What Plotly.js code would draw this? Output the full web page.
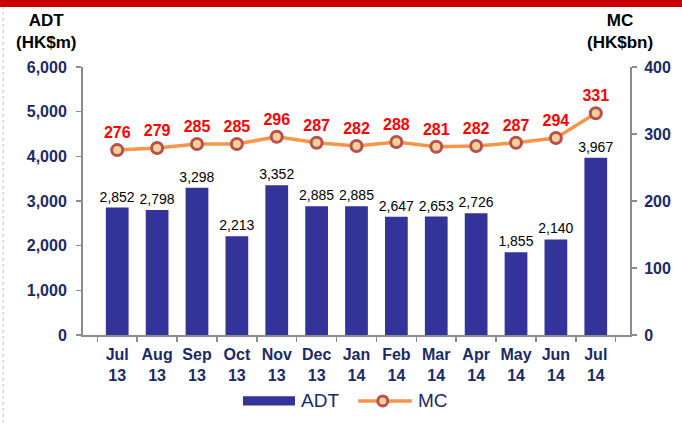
<!DOCTYPE html>
<html><head><meta charset="utf-8">
<script src="https://cdn.plot.ly/plotly-3.0.1.min.js"></script>
<style>html,body{margin:0;padding:0;background:#fff;}#chart{width:682px;height:424px;}</style>
</head><body><div id="chart"></div>
<script>
const months = ["Jul<br>13","Aug<br>13","Sep<br>13","Oct<br>13","Nov<br>13","Dec<br>13","Jan<br>14","Feb<br>14","Mar<br>14","Apr<br>14","May<br>14","Jun<br>14","Jul<br>14"];
const adt = [2852, 2798, 3298, 2213, 3352, 2885, 2885, 2647, 2653, 2726, 1855, 2140, 3967];
const mc = [276, 279, 285, 285, 296, 287, 282, 288, 281, 282, 287, 294, 331];

const navy = '#1b2a66';
const font = 'Liberation Sans, Arial, sans-serif';

const traces = [
  {type:'bar', x:months, y:adt, name:'ADT', marker:{color:'#333399'},
   texttemplate:'%{y:,}', textposition:'outside', cliponaxis:false, constraintext:'none',
   textfont:{family:font, size:14, color:'#000'}, showlegend:false},
  {type:'scatter', mode:'lines+markers+text', x:months, y:mc, yaxis:'y2', name:'MC',
   line:{color:'#F79646', width:3.5},
   marker:{size:11, color:'#F2D29B', line:{color:'#B9504C', width:3}},
   text:mc.map(String), textposition:'top center', cliponaxis:false,
   textfont:{family:font, size:16, color:'#FF0000', weight:'bold'}, showlegend:false}
];

const axisCommon = {showline:true, linecolor:'#8c8c8c', linewidth:2, ticks:'outside', ticklen:5,
  tickcolor:'#8c8c8c', tickwidth:1.5, showgrid:false, zeroline:false,
  tickfont:{family:font, size:16, color:navy, weight:'bold'}};

const layout = {
  width:682, height:424,
  margin:{l:83, r:52, t:67, b:89},
  paper_bgcolor:'#fff', plot_bgcolor:'#fff',
  bargap:0.43,
  showlegend:false,
  font:{family:font},
  xaxis:Object.assign({}, axisCommon, {type:'category', tickson:'boundaries', ticklabelstandoff:4, tickangle:0,
    tickfont:{family:font, size:16, color:navy, weight:'bold'}}),
  yaxis:Object.assign({}, axisCommon, {range:[0,6000], dtick:1000, tickformat:',', ticklabelstandoff:6}),
  yaxis2:Object.assign({}, axisCommon, {range:[0,400], dtick:100, overlaying:'y', side:'right', ticklabelstandoff:4}),
  shapes:[
    {type:'rect', xref:'paper', yref:'paper', x0:-0.2, x1:1.2, y0:1.224, y1:1.3, line:{width:0}, fillcolor:'#CC0000'},
    {type:'line', xref:'paper', yref:'paper', x0:-0.146, x1:-0.146, y0:-0.35, y1:1.224, line:{color:'#bbbbbb', width:1, dash:'dot'}},
    {type:'rect', xref:'paper', yref:'paper', x0:0.2925, x1:0.3876, y0:-0.229, y1:-0.263, fillcolor:'#333399', line:{width:0}},
    {type:'line', xref:'paper', yref:'paper', x0:0.503, x1:0.601, y0:-0.246, y1:-0.246, line:{color:'#F79646', width:3.5}},
    {type:'circle', xref:'paper', yref:'paper', xsizemode:'pixel', ysizemode:'pixel',
     xanchor:0.548, yanchor:-0.246, x0:-5, x1:5, y0:-5, y1:5, fillcolor:'#F2D29B', line:{color:'#B9504C', width:3}}
  ],
  annotations:[
    {xref:'paper', yref:'paper', x:-0.068, y:1.134, xanchor:'center', yanchor:'middle', showarrow:false,
     text:'<b>ADT</b><br><b>(HK$m)</b>', font:{family:font, size:17, color:'#000'}},
    {xref:'paper', yref:'paper', x:0.982, y:1.134, xanchor:'center', yanchor:'middle', showarrow:false,
     text:'<b>MC</b><br><b>(HK$bn)</b>', font:{family:font, size:17, color:'#000'}},
    {xref:'paper', yref:'paper', x:0.395, y:-0.246, xanchor:'left', yanchor:'middle', showarrow:false,
     text:'ADT', font:{family:font, size:19, color:navy}},
    {xref:'paper', yref:'paper', x:0.608, y:-0.246, xanchor:'left', yanchor:'middle', showarrow:false,
     text:'MC', font:{family:font, size:19, color:navy}}
  ]
};
Plotly.newPlot('chart', traces, layout, {displayModeBar:false, staticPlot:true});
</script></body></html>
